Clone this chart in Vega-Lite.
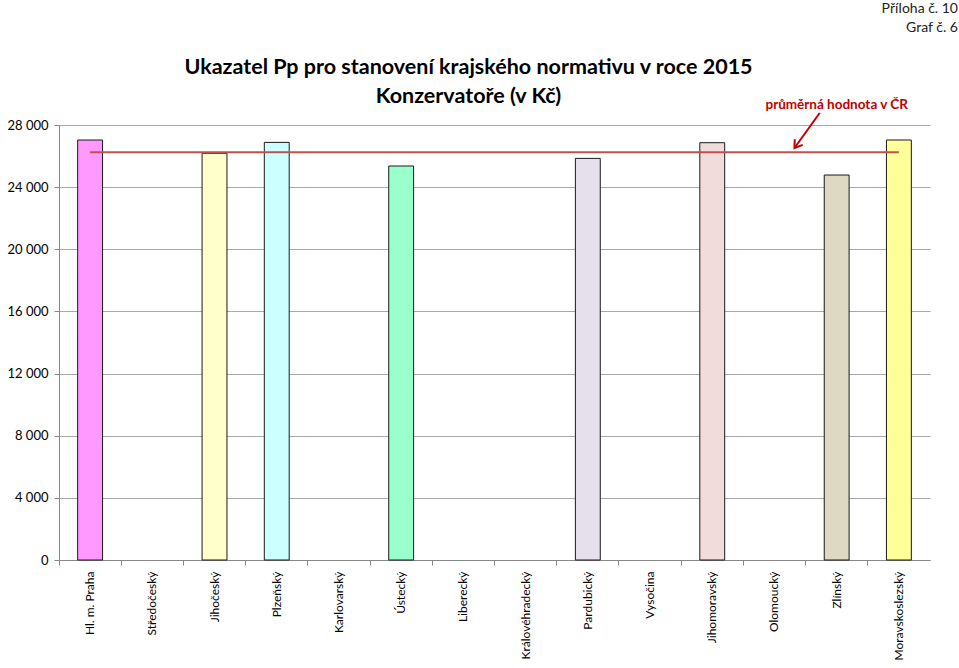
{
  "$schema": "https://vega.github.io/schema/vega-lite/v6.json",
  "background": "white",
  "padding": {"left": 6, "top": 2, "right": 30, "bottom": 2},
  "title": {
    "text": ["Příloha č. 10", "Graf č. 6"],
    "anchor": "end",
    "fontSize": 14,
    "font": "Lato",
    "fontWeight": "normal",
    "color": "#222222",
    "lineHeight": 19,
    "dx": 28,
    "offset": 22
  },
  "config": {
    "view": {"stroke": null},
    "font": "Lato"
  },
  "vconcat": [
    {
      "width": 871,
      "height": 435,
      "title": {
        "text": ["Ukazatel Pp pro stanovení krajského normativu v roce 2015", "Konzervatoře (v Kč)"],
        "anchor": "middle",
        "fontSize": 21.5,
        "font": "Lato",
        "fontWeight": "bold",
        "color": "#000000",
        "lineHeight": 29,
        "dx": -26,
        "offset": -10
      },
      "layer": [
        {
          "data": {
            "values": [
              {"kraj": "Hl. m. Praha", "hodnota": 27034},
              {"kraj": "Středočeský", "hodnota": null},
              {"kraj": "Jihočeský", "hodnota": 26180},
              {"kraj": "Plzeňský", "hodnota": 26880},
              {"kraj": "Karlovarský", "hodnota": null},
              {"kraj": "Ústecký", "hodnota": 25360},
              {"kraj": "Liberecký", "hodnota": null},
              {"kraj": "Královéhradecký", "hodnota": null},
              {"kraj": "Pardubický", "hodnota": 25850},
              {"kraj": "Vysočina", "hodnota": null},
              {"kraj": "Jihomoravský", "hodnota": 26860},
              {"kraj": "Olomoucký", "hodnota": null},
              {"kraj": "Zlínský", "hodnota": 24780},
              {"kraj": "Moravskoslezský", "hodnota": 27034}
            ]
          },
          "mark": {"type": "bar", "width": {"band": 0.4}, "stroke": "#1a1a1a", "strokeWidth": 1},
          "encoding": {
            "x": {
              "field": "kraj",
              "type": "nominal",
              "sort": null,
              "scale": {
                "domain": ["Hl. m. Praha", "Středočeský", "Jihočeský", "Plzeňský", "Karlovarský", "Ústecký", "Liberecký", "Královéhradecký", "Pardubický", "Vysočina", "Jihomoravský", "Olomoucký", "Zlínský", "Moravskoslezský"],
                "paddingInner": 0,
                "paddingOuter": 0
              },
              "axis": {
                "title": null,
                "labelAngle": 270,
                "labelFontSize": 12,
                "labelFont": "Lato",
                "labelColor": "#000000",
                "labelPadding": 6,
                "tickSize": 5,
                "tickColor": "#888888",
                "domainColor": "#888888",
                "bandPosition": 0,
                "grid": false
              }
            },
            "y": {
              "field": "hodnota",
              "type": "quantitative",
              "scale": {"domain": [0, 28000], "nice": false},
              "axis": {
                "title": null,
                "values": [0, 4000, 8000, 12000, 16000, 20000, 24000, 28000],
                "labelExpr": "replace(format(datum.value, ','), ',', ' ')",
                "labelFontSize": 13,
                "labelFont": "Lato",
                "labelColor": "#000000",
                "labelPadding": 6,
                "tickSize": 5,
                "tickColor": "#888888",
                "domainColor": "#888888",
                "grid": true,
                "gridColor": "#A8A8A8",
                "gridWidth": 1
              }
            },
            "color": {
              "field": "kraj",
              "type": "nominal",
              "legend": null,
              "scale": {
                "domain": ["Hl. m. Praha", "Jihočeský", "Plzeňský", "Ústecký", "Pardubický", "Jihomoravský", "Zlínský", "Moravskoslezský"],
                "range": ["#FF99FF", "#FFFFCC", "#CCFFFF", "#99FFCC", "#E6E0EC", "#F2DCDB", "#DDD9C3", "#FFFF99"]
              }
            }
          }
        },
        {
          "data": {
            "values": [
              {"kraj": "Hl. m. Praha", "prumer": 26240},
              {"kraj": "Moravskoslezský", "prumer": 26240}
            ]
          },
          "mark": {"type": "line", "color": "#C0504D", "strokeWidth": 2},
          "encoding": {
            "x": {"field": "kraj", "type": "nominal", "sort": null},
            "y": {"field": "prumer", "type": "quantitative"}
          }
        },
        {
          "data": {
            "values": [
              {"kraj": "Zlínský", "y": 28770, "kraj2": "Olomoucký", "y2": 26520}
            ]
          },
          "mark": {"type": "rule", "color": "#C00000", "strokeWidth": 2, "xOffset": -17, "x2Offset": 20},
          "encoding": {
            "x": {"field": "kraj", "type": "nominal", "sort": null},
            "x2": {"field": "kraj2"},
            "y": {"field": "y", "type": "quantitative"},
            "y2": {"field": "y2"}
          }
        },
        {
          "data": {
            "values": [
              {"kraj": "Olomoucký", "y": 26520}
            ]
          },
          "mark": {
            "type": "point",
            "shape": "M-0.8,-1.2L0,0L0.8,-1.2",
            "filled": false,
            "stroke": "#C00000",
            "strokeWidth": 2,
            "size": 150,
            "angle": 35.5,
            "xOffset": 20,
            "opacity": 1
          },
          "encoding": {
            "x": {"field": "kraj", "type": "nominal", "sort": null},
            "y": {"field": "y", "type": "quantitative"}
          }
        },
        {
          "data": {
            "values": [
              {"kraj": "Zlínský", "y": 29290, "popis": "průměrná hodnota v ČR"}
            ]
          },
          "mark": {"type": "text", "color": "#C00000", "fontWeight": "bold", "fontSize": 13.5, "font": "Lato", "align": "center", "baseline": "middle"},
          "encoding": {
            "x": {"field": "kraj", "type": "nominal", "sort": null},
            "y": {"field": "y", "type": "quantitative"},
            "text": {"field": "popis"}
          }
        }
      ]
    }
  ]
}
